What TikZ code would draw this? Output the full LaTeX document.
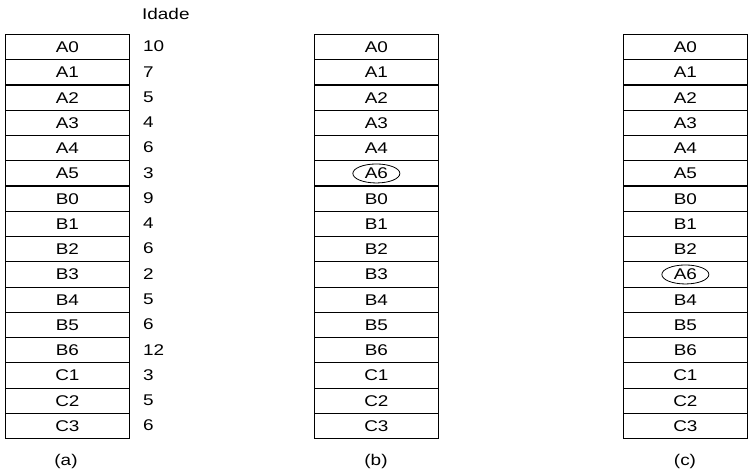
\documentclass[tikz,border=0pt]{standalone}
\usepackage{fontspec}
\setmainfont[FakeStretch=1.22]{Liberation Sans}
\usetikzlibrary{shapes.geometric}
\begin{document}
\begin{tikzpicture}[x=1pt,y=-1pt,
  txt/.style={font=\fontsize{15.5}{15.5}\selectfont},
  cell/.style={txt,draw,line width=1.2pt,minimum width=124.5pt,minimum height=25.25pt,inner sep=0pt,anchor=north west},
  lbl/.style={txt,inner sep=0pt},
  circ/.style={draw,ellipse,line width=0.8pt,minimum width=47pt,minimum height=19pt,inner sep=0pt}]
\useasboundingbox (0,0) rectangle (752,473);
% column a
\foreach \t [count=\i from 0] in {A0,A1,A2,A3,A4,A5,B0,B1,B2,B3,B4,B5,B6,C1,C2,C3}
  \node[cell] (a\i) at (4.5,{34+25.25*\i}) {\t};
\foreach \v [count=\i from 0] in {10,7,5,4,6,3,9,4,6,2,5,6,12,3,5,6}
  \node[lbl,anchor=west] (n\i) at (143,{46.6+25.25*\i}) {\v};
\node[lbl,anchor=west] (idade) at (142,14) {Idade};
% column b
\foreach \t [count=\i from 0] in {A0,A1,A2,A3,A4,A6,B0,B1,B2,B3,B4,B5,B6,C1,C2,C3}
  \node[cell] (b\i) at (313.5,{34+25.25*\i}) {\t};
\node[circ] (eb) at (b5.center) {};
% column c
\foreach \t [count=\i from 0] in {A0,A1,A2,A3,A4,A5,B0,B1,B2,A6,B4,B5,B6,C1,C2,C3}
  \node[cell] (c\i) at (622.5,{34+25.25*\i}) {\t};
\node[circ] (ec) at (c9.center) {};
% captions
\node[lbl] (capa) at (66,461) {(a)};
\node[lbl] (capb) at (376,461) {(b)};
\node[lbl] (capc) at (685,461) {(c)};
\end{tikzpicture}
\end{document}
